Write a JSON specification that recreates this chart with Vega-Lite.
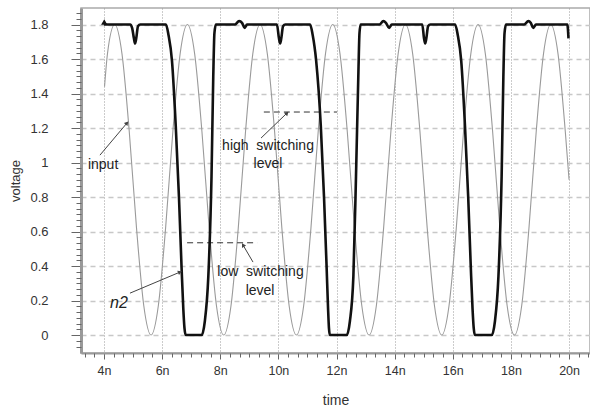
{
  "$schema": "https://vega.github.io/schema/vega-lite/v6.json",
  "width": 509,
  "height": 345,
  "autosize": {"type": "none"},
  "padding": {"left": 81, "top": 8, "right": 0, "bottom": 54},
  "background": "white",
  "config": {"view": {"stroke": "#aaa", "strokeWidth": 1.5}, "font": "Liberation Sans"},
  "datasets": {
    "input": [
      {"t": 4.02, "v": 1.44}, {"t": 4.12, "v": 1.63}, {"t": 4.37, "v": 1.8}, {"t": 4.62, "v": 1.63}, {"t": 4.87, "v": 1.18},
      {"t": 5.12, "v": 0.62}, {"t": 5.37, "v": 0.17}, {"t": 5.62, "v": 0.0}, {"t": 5.87, "v": 0.17}, {"t": 6.12, "v": 0.62},
      {"t": 6.37, "v": 1.18}, {"t": 6.62, "v": 1.63}, {"t": 6.87, "v": 1.8}, {"t": 7.12, "v": 1.63}, {"t": 7.37, "v": 1.18},
      {"t": 7.62, "v": 0.62}, {"t": 7.87, "v": 0.17}, {"t": 8.12, "v": 0.0}, {"t": 8.37, "v": 0.17}, {"t": 8.62, "v": 0.62},
      {"t": 8.87, "v": 1.18}, {"t": 9.12, "v": 1.63}, {"t": 9.37, "v": 1.8}, {"t": 9.62, "v": 1.63}, {"t": 9.87, "v": 1.18},
      {"t": 10.12, "v": 0.62}, {"t": 10.37, "v": 0.17}, {"t": 10.62, "v": 0.0}, {"t": 10.87, "v": 0.17}, {"t": 11.12, "v": 0.62},
      {"t": 11.37, "v": 1.18}, {"t": 11.62, "v": 1.63}, {"t": 11.87, "v": 1.8}, {"t": 12.12, "v": 1.63}, {"t": 12.37, "v": 1.18},
      {"t": 12.62, "v": 0.62}, {"t": 12.87, "v": 0.17}, {"t": 13.12, "v": 0.0}, {"t": 13.37, "v": 0.17}, {"t": 13.62, "v": 0.62},
      {"t": 13.87, "v": 1.18}, {"t": 14.12, "v": 1.63}, {"t": 14.37, "v": 1.8}, {"t": 14.62, "v": 1.63}, {"t": 14.87, "v": 1.18},
      {"t": 15.12, "v": 0.62}, {"t": 15.37, "v": 0.17}, {"t": 15.62, "v": 0.0}, {"t": 15.87, "v": 0.17}, {"t": 16.12, "v": 0.62},
      {"t": 16.37, "v": 1.18}, {"t": 16.62, "v": 1.63}, {"t": 16.87, "v": 1.8}, {"t": 17.12, "v": 1.63}, {"t": 17.37, "v": 1.18},
      {"t": 17.62, "v": 0.62}, {"t": 17.87, "v": 0.17}, {"t": 18.12, "v": 0.0}, {"t": 18.37, "v": 0.17}, {"t": 18.62, "v": 0.62},
      {"t": 18.87, "v": 1.18}, {"t": 19.12, "v": 1.63}, {"t": 19.37, "v": 1.8}, {"t": 19.62, "v": 1.63}, {"t": 19.87, "v": 1.18},
      {"t": 20.0, "v": 0.9}
    ],
    "n2": [
      {"t": 4.0, "v": 1.8}, {"t": 4.9, "v": 1.8}, {"t": 4.97, "v": 1.78}, {"t": 5.03, "v": 1.72}, {"t": 5.07, "v": 1.69},
      {"t": 5.11, "v": 1.72}, {"t": 5.17, "v": 1.79}, {"t": 5.25, "v": 1.8}, {"t": 6.13, "v": 1.8}, {"t": 6.22, "v": 1.74},
      {"t": 6.34, "v": 1.59}, {"t": 6.47, "v": 1.21}, {"t": 6.58, "v": 0.8}, {"t": 6.67, "v": 0.39}, {"t": 6.73, "v": 0.15},
      {"t": 6.77, "v": 0.04}, {"t": 6.81, "v": 0.0}, {"t": 7.36, "v": 0.0}, {"t": 7.47, "v": 0.08}, {"t": 7.59, "v": 0.34},
      {"t": 7.7, "v": 0.92}, {"t": 7.76, "v": 1.5}, {"t": 7.8, "v": 1.75}, {"t": 7.85, "v": 1.8}, {"t": 8.5, "v": 1.8},
      {"t": 8.65, "v": 1.82}, {"t": 8.75, "v": 1.81}, {"t": 8.84, "v": 1.78}, {"t": 8.92, "v": 1.8}, {"t": 9.95, "v": 1.8},
      {"t": 10.02, "v": 1.72}, {"t": 10.06, "v": 1.69}, {"t": 10.1, "v": 1.72}, {"t": 10.16, "v": 1.79}, {"t": 10.24, "v": 1.8},
      {"t": 11.09, "v": 1.8}, {"t": 11.18, "v": 1.74}, {"t": 11.3, "v": 1.59}, {"t": 11.46, "v": 1.21}, {"t": 11.57, "v": 0.8},
      {"t": 11.66, "v": 0.39}, {"t": 11.71, "v": 0.15}, {"t": 11.74, "v": 0.04}, {"t": 11.77, "v": 0.0}, {"t": 12.35, "v": 0.0},
      {"t": 12.46, "v": 0.08}, {"t": 12.58, "v": 0.34}, {"t": 12.67, "v": 0.92}, {"t": 12.75, "v": 1.5}, {"t": 12.79, "v": 1.75},
      {"t": 12.83, "v": 1.8}, {"t": 13.48, "v": 1.8}, {"t": 13.61, "v": 1.82}, {"t": 13.7, "v": 1.81}, {"t": 13.81, "v": 1.78},
      {"t": 13.9, "v": 1.8}, {"t": 14.95, "v": 1.8}, {"t": 15.01, "v": 1.72}, {"t": 15.05, "v": 1.69}, {"t": 15.09, "v": 1.72},
      {"t": 15.15, "v": 1.79}, {"t": 15.23, "v": 1.8}, {"t": 16.08, "v": 1.8}, {"t": 16.17, "v": 1.74}, {"t": 16.29, "v": 1.59},
      {"t": 16.42, "v": 1.21}, {"t": 16.53, "v": 0.8}, {"t": 16.62, "v": 0.39}, {"t": 16.68, "v": 0.15}, {"t": 16.72, "v": 0.04},
      {"t": 16.76, "v": 0.0}, {"t": 17.34, "v": 0.0}, {"t": 17.45, "v": 0.08}, {"t": 17.57, "v": 0.34}, {"t": 17.68, "v": 0.92},
      {"t": 17.74, "v": 1.5}, {"t": 17.78, "v": 1.75}, {"t": 17.83, "v": 1.8}, {"t": 18.45, "v": 1.8}, {"t": 18.6, "v": 1.82},
      {"t": 18.68, "v": 1.81}, {"t": 18.77, "v": 1.78}, {"t": 18.86, "v": 1.8}, {"t": 19.94, "v": 1.8}, {"t": 19.98, "v": 1.72}
    ],
    "levels": [
      {"t": 9.5, "t2": 12.02, "v": 1.293},
      {"t": 6.86, "t2": 9.27, "v": 0.535}
    ],
    "arrows": [
      {"t": 3.862, "v": 1.043, "t2": 4.791, "v2": 1.229, "angle": 40},
      {"t": 4.895, "v": 0.243, "t2": 6.615, "v2": 0.365, "angle": 67},
      {"t": 9.403, "v": 1.142, "t2": 10.297, "v2": 1.287, "angle": 46},
      {"t": 9.127, "v": 0.423, "t2": 8.783, "v2": 0.522, "angle": -30}
    ],
    "labels": [
      {"t": 3.97, "v": 0.986, "label": "input"},
      {"t": 9.643, "v": 1.096, "label": "high\u00a0 switching"},
      {"t": 9.643, "v": 0.993, "label": "level"},
      {"t": 9.385, "v": 0.365, "label": "low\u00a0 switching"},
      {"t": 9.37, "v": 0.255, "label": "level"}
    ],
    "italic": [
      {"t": 4.516, "v": 0.186, "label": "n2"}
    ],
    "markers": [
      {"t": 4.01, "v": 1.815, "series": "n2"}
    ]
  },
  "resolve": {"axis": {"x": "independent", "y": "independent"}},
  "layer": [
    {
      "data": {"name": "input"},
      "mark": {"type": "line", "color": "#9a9a9a", "strokeWidth": 1.1, "interpolate": "monotone"},
      "encoding": {
        "x": {"field": "t", "type": "quantitative",
          "scale": {"domain": [3.21, 20.72], "nice": false, "zero": false},
          "axis": {"orient": "bottom", "values": [4, 6, 8, 10, 12, 14, 16, 18, 20], "labelExpr": "datum.value + 'n'",
            "title": "time", "grid": true, "gridDash": [1, 2], "gridColor": "#999", "gridWidth": 1,
            "domainColor": "#999", "domainWidth": 2, "tickColor": "#666", "tickSize": 6,
            "labelFont": "Liberation Sans", "labelFontSize": 12.5, "labelColor": "#333", "labelPadding": 5,
            "titleFont": "Liberation Sans", "titleFontSize": 14, "titleFontWeight": "normal", "titleColor": "#333", "titlePadding": 17}},
        "y": {"field": "v", "type": "quantitative",
          "scale": {"domain": [-0.104, 1.896], "nice": false, "zero": false},
          "axis": {"orient": "left", "values": [0, 0.2, 0.4, 0.6, 0.8, 1, 1.2, 1.4, 1.6, 1.8], "format": ".1~f",
            "title": "voltage", "grid": true, "gridDash": [5, 4], "gridColor": "#c8c8c8", "gridWidth": 1.5,
            "domainColor": "#999", "domainWidth": 3, "tickColor": "#666", "tickSize": 10,
            "labelFont": "Liberation Sans", "labelFontSize": 13, "labelColor": "#333", "labelPadding": 23,
            "titleFont": "Liberation Sans", "titleFontSize": 13, "titleFontWeight": "normal", "titleColor": "#333", "titlePadding": 7}}
      }
    },
    {
      "data": {"name": "input"},
      "mark": {"type": "point", "opacity": 0},
      "encoding": {
        "x": {"field": "t", "type": "quantitative",
          "axis": {"orient": "bottom", "labels": false, "grid": false, "domain": false, "title": null, "tickSize": 4, "tickColor": "#666",
            "values": [3.333, 3.667, 4.333, 4.667, 5, 5.333, 5.667, 6.333, 6.667, 7, 7.333, 7.667, 8.333, 8.667, 9, 9.333, 9.667, 10.333, 10.667, 11, 11.333, 11.667, 12.333, 12.667, 13, 13.333, 13.667, 14.333, 14.667, 15, 15.333, 15.667, 16.333, 16.667, 17, 17.333, 17.667, 18.333, 18.667, 19, 19.333, 19.667, 20.333, 20.667]}},
        "y": {"field": "v", "type": "quantitative",
          "axis": {"orient": "left", "labels": false, "grid": false, "domain": false, "title": null, "tickSize": 5, "tickColor": "#666",
            "values": [-0.0667, -0.0333, 0.0333, 0.0667, 0.1, 0.1333, 0.1667, 0.2333, 0.2667, 0.3, 0.3333, 0.3667, 0.4333, 0.4667, 0.5, 0.5333, 0.5667, 0.6333, 0.6667, 0.7, 0.7333, 0.7667, 0.8333, 0.8667, 0.9, 0.9333, 0.9667, 1.0333, 1.0667, 1.1, 1.1333, 1.1667, 1.2333, 1.2667, 1.3, 1.3333, 1.3667, 1.4333, 1.4667, 1.5, 1.5333, 1.5667, 1.6333, 1.6667, 1.7, 1.7333, 1.7667, 1.8333, 1.8667]}}
      }
    },
    {
      "data": {"name": "levels"},
      "mark": {"type": "rule", "color": "#333", "strokeWidth": 1, "strokeDash": [6, 4]},
      "encoding": {
        "x": {"field": "t", "type": "quantitative", "axis": null},
        "x2": {"field": "t2"},
        "y": {"field": "v", "type": "quantitative", "axis": null}
      }
    },
    {
      "data": {"name": "n2"},
      "mark": {"type": "line", "color": "#111", "strokeWidth": 2.6, "interpolate": "monotone"},
      "encoding": {
        "x": {"field": "t", "type": "quantitative", "axis": null},
        "y": {"field": "v", "type": "quantitative", "axis": null}
      }
    },
    {
      "data": {"name": "markers"},
      "mark": {"type": "point", "shape": "triangle-up", "filled": true, "color": "#111", "size": 40, "opacity": 1},
      "encoding": {
        "x": {"field": "t", "type": "quantitative", "axis": null},
        "y": {"field": "v", "type": "quantitative", "axis": null}
      }
    },
    {
      "data": {"name": "arrows"},
      "mark": {"type": "rule", "color": "#444", "strokeWidth": 1},
      "encoding": {
        "x": {"field": "t", "type": "quantitative", "axis": null},
        "x2": {"field": "t2"},
        "y": {"field": "v", "type": "quantitative", "axis": null},
        "y2": {"field": "v2"}
      }
    },
    {
      "data": {"name": "arrows"},
      "mark": {"type": "point", "shape": "triangle-up", "filled": true, "color": "#444", "size": 22, "opacity": 1},
      "encoding": {
        "x": {"field": "t2", "type": "quantitative", "axis": null},
        "y": {"field": "v2", "type": "quantitative", "axis": null},
        "angle": {"field": "angle", "type": "quantitative", "scale": null}
      }
    },
    {
      "data": {"name": "labels"},
      "mark": {"type": "text", "font": "Liberation Sans", "fontSize": 14, "color": "#222", "align": "center", "baseline": "middle"},
      "encoding": {
        "x": {"field": "t", "type": "quantitative", "axis": null},
        "y": {"field": "v", "type": "quantitative", "axis": null},
        "text": {"field": "label"}
      }
    },
    {
      "data": {"name": "italic"},
      "mark": {"type": "text", "font": "Liberation Sans", "fontSize": 16, "fontStyle": "italic", "color": "#222", "align": "center", "baseline": "middle"},
      "encoding": {
        "x": {"field": "t", "type": "quantitative", "axis": null},
        "y": {"field": "v", "type": "quantitative", "axis": null},
        "text": {"field": "label"}
      }
    }
  ]
}
